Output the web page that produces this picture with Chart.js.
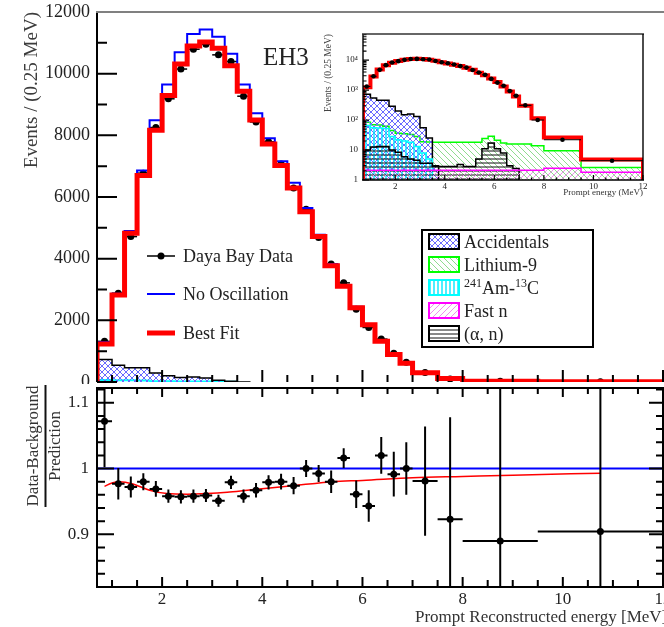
<!DOCTYPE html>
<html>
<head>
<meta charset="utf-8">
<script src="https://cdn.jsdelivr.net/npm/chart.js@4.4.1/dist/chart.umd.min.js"></script>
<style>
  html, body { margin: 0; padding: 0; background: #fff; width: 664px; height: 627px; overflow: hidden; }
  .panel { position: absolute; }
  canvas { display: block; }
</style>
</head>
<body>
<div class="panel" style="left:0;top:0"><canvas id="spectrum" width="700" height="386"></canvas></div>
<div class="panel" style="left:0;top:384px"><canvas id="ratio" width="700" height="243"></canvas></div>
<div class="panel" style="left:320px;top:25px"><canvas id="inset" width="380" height="175"></canvas></div>
<script>
// ---------------- data ----------------
// energy bin edges (MeV)
const binEdges = [0.7, 1.0, 1.25, 1.5, 1.75, 2.0, 2.25, 2.5, 2.75, 3.0, 3.25, 3.5, 3.75, 4.0,
  4.25, 4.5, 4.75, 5.0, 5.25, 5.5, 5.75, 6.0, 6.25, 6.5, 6.75, 7.0, 7.5, 8.0, 9.5, 12.0];

// events per 0.25 MeV
const dataCounts = [1318, 2880, 4716, 6774, 8253, 9185, 10150, 10793, 10953, 10610, 10394, 9269,
  8433, 7790, 7073, 6292, 5604, 4684, 3826, 3215, 2357, 1768, 1392, 932, 643, 310, 100, 22, 4.4];
const noOscCounts = [1286, 2860, 4896, 6858, 8488, 9645, 10696, 11285, 11430, 11198, 10642, 9645,
  8713, 7909, 7160, 6462, 5640, 4774, 3826, 3150, 2443, 1881, 1334, 900, 620, 305, 118, 27, 5.0];
const bestFitCounts = [1231, 2820, 4822, 6697, 8166, 9291, 10311, 10899, 11027, 10825, 10256, 9430,
  8497, 7716, 7018, 6292, 5520, 4716, 3771, 3109, 2411, 1855, 1318, 889, 611, 300, 115, 26, 4.8];

// background components
const accidentals = [730, 540, 460, 460, 290, 200, 150, 160, 130, 55, 25, 3, null, null, null,
  null, null, null, null, null, null, null, null, null, null, null, null, null, null];
const lithium9 = [85, 70, 68, 62, 45, 36, 35, 33, 28, 19, 18.5, 18, 18, 18, 18, 18, 18, 18, 18,
  24, 29, 21, 17, 16, 16, 16, 14, 9.5, 2.6];
const amC = [66, 55, 54, 52, 28, 22, 20, 18, 13, 8, 5, null, null, null, null, null, null, null,
  null, null, null, null, null, null, null, null, null, null, null];
const fastN = [2.1, 2.1, 2.1, 2.1, 2.1, 2.1, 2.1, 2.1, 2.1, 2.1, 2.1, 2.1, 2.1, 2.1, 2.1, 2.1,
  2.1, 2.1, 2.1, 2.1, 2.1, 2.1, 2.1, 2.1, 2.1, 2.1, 2.1, 2.45, 1.8];
const alphaN = [10, 12.5, 13, 13, 10, 8.5, 6, 5, 4.6, 3.6, 3.6, 2.8, 2.8, 2.8, 2.8, 3.3, 2.8, 2.8,
  5, 11, 17, 11, 8, 3, 2.4, null, null, null, null];

// (data - background) / prediction, per bin
const ratioValues = [1.072, 0.977, 0.972, 0.980, 0.969, 0.958, 0.957, 0.958, 0.959, 0.951, 0.979,
  0.958, 0.967, 0.979, 0.980, 0.974, 1.000, 0.9925, 0.980, 1.016, 0.961, 0.943, 1.020, 0.9915,
  1.000, 0.981, 0.923, 0.890, 0.9045];
const ratioErrors = [0.07, 0.024, 0.016, 0.013, 0.012, 0.010, 0.010, 0.010, 0.010, 0.009, 0.010,
  0.010, 0.011, 0.011, 0.012, 0.013, 0.013, 0.013, 0.017, 0.015, 0.021, 0.024, 0.028, 0.034,
  0.040, 0.083, 0.155, 0.30, 0.30];

// best-fit oscillation curve in the ratio panel
const fitEnergy = [0.85, 1.0, 1.15, 1.4, 1.75, 2.1, 2.5, 2.9, 3.3, 3.7, 4.1, 4.6, 5.0, 5.4, 6.0,
  7.0, 8.0, 9.0, 10.75];
const fitRatio = [0.973, 0.978, 0.980, 0.977, 0.967, 0.962, 0.961, 0.962, 0.964, 0.967, 0.970,
  0.974, 0.977, 0.980, 0.982, 0.986, 0.988, 0.990, 0.993];
// no-oscillation reference in the ratio panel
const unityEnergy = [0.7, 12];
const unityRatio = [1, 1];

// tick labels
const countTicks = [0, 2000, 4000, 6000, 8000, 10000, 12000];
const ratioTicks = [0.9, 1, 1.1];
const energyTicks = [2, 4, 6, 8, 10, 12];
const logTicks = [1, 10, 100, 1000, 10000];
const logTickLabels = ['1', '10', '10²', '10³', '10⁴'];

// ---------------- helpers ----------------
const SERIF = "'Liberation Serif','Times New Roman',serif";
Chart.defaults.font.family = SERIF;
Chart.defaults.color = '#222';
Chart.defaults.animation = false;
Chart.defaults.events = [];
Chart.defaults.plugins.legend.display = false;
Chart.defaults.plugins.tooltip.enabled = false;

const binCenters = binEdges.slice(0, -1).map((e, i) => (e + binEdges[i + 1]) / 2);

// step outline of a histogram, closed down to `floor` at both ends
function histPoints(values, floor) {
  const pts = [];
  let open = false;
  for (let i = 0; i < values.length; i++) {
    const v = values[i];
    if (v == null) {
      if (open) { pts.push({x: binEdges[i], y: values[i - 1]}, {x: binEdges[i], y: floor}); open = false; }
      continue;
    }
    if (!open) { pts.push({x: binEdges[i], y: floor}); open = true; }
    pts.push({x: binEdges[i], y: v});
  }
  if (open) {
    const n = values.length;
    pts.push({x: binEdges[n], y: values[n - 1]}, {x: binEdges[n], y: floor});
  }
  return pts;
}

function makeHatch(kind, color, step, lw) {
  const c = document.createElement('canvas');
  c.width = c.height = step;
  const g = c.getContext('2d');
  g.strokeStyle = color;
  g.lineWidth = lw;
  g.beginPath();
  if (kind === 'h') { g.moveTo(0, step / 2); g.lineTo(step, step / 2); }
  else if (kind === 'v') { g.moveTo(step / 2, 0); g.lineTo(step / 2, step); }
  else {
    for (const k of [-step, 0, step]) {
      if (kind === 'back' || kind === 'cross') { g.moveTo(k, 0); g.lineTo(k + step, step); }
      if (kind === 'fwd' || kind === 'cross') { g.moveTo(k, step); g.lineTo(k + step, 0); }
    }
  }
  g.stroke();
  return g.createPattern(c, 'repeat');
}

const hatchAcc = makeHatch('cross', '#6a6aff', 6, 1);
const hatchLi = makeHatch('back', '#8fdc8f', 6, 1);
const hatchAm = makeHatch('v', '#00e8ff', 4, 1.4);
const hatchFast = makeHatch('fwd', '#f08cf0', 6, 1);
const hatchAlpha = makeHatch('h', '#111', 4, 1);

function range(from, to, step, skip) {
  const out = [];
  for (let v = from; v <= to + 1e-9; v += step) {
    const r = Math.round(v * 1000) / 1000;
    if (!skip || !skip.some(s => Math.abs(s - r) < 1e-6)) out.push(r);
  }
  return out;
}

function fixedScale(size, horizontal) {
  return (s) => {
    if (horizontal) s.height = size; else s.width = size;
    s.paddingLeft = s.paddingRight = s.paddingTop = s.paddingBottom = 0;
  };
}

// frame lines and inward tick marks
const framePlugin = {
  id: 'frame',
  beforeDraw(chart, args, o) {
    if (!o.background) return;
    const c = chart.ctx;
    c.save(); c.fillStyle = o.background; c.fillRect(0, 0, chart.width, chart.height); c.restore();
  },
  afterDatasetsDraw(chart, args, o) {
    const {ctx, chartArea: a, scales} = chart;
    ctx.save();
    (o.ticks || []).forEach(t => {
      const s = scales[t.axis];
      ctx.strokeStyle = t.color || '#000';
      ctx.lineWidth = t.width || 1.5;
      ctx.beginPath();
      t.values.forEach(v => {
        const p = s.getPixelForValue(v);
        if (t.side === 'left') { ctx.moveTo(a.left, p); ctx.lineTo(a.left + t.len, p); }
        else if (t.side === 'right') { ctx.moveTo(a.right, p); ctx.lineTo(a.right - t.len, p); }
        else if (t.side === 'bottom') { ctx.moveTo(p, a.bottom); ctx.lineTo(p, a.bottom - t.len); }
        else { ctx.moveTo(p, a.top); ctx.lineTo(p, a.top + t.len); }
      });
      ctx.stroke();
    });
    (o.edges || []).forEach(e => {
      ctx.strokeStyle = e.color || '#000';
      ctx.lineWidth = e.width || 2;
      ctx.beginPath();
      if (e.side === 'left') { ctx.moveTo(a.left, a.top); ctx.lineTo(a.left, a.bottom); }
      else if (e.side === 'right') { ctx.moveTo(a.right, a.top); ctx.lineTo(a.right, a.bottom); }
      else if (e.side === 'top') { ctx.moveTo(a.left - 1, a.top); ctx.lineTo(e.to || a.right + 1, a.top); }
      else { ctx.moveTo(a.left - 1, a.bottom); ctx.lineTo(a.right + 1, a.bottom); }
      ctx.stroke();
    });
    ctx.restore();
  }
};

// horizontal / vertical error bars for datasets that carry them
const errorBarPlugin = {
  id: 'errorBars',
  beforeDatasetDraw(chart, args) {
    const ds = chart.data.datasets[args.index];
    if (!ds.errorBars) return;
    const {ctx, chartArea: a} = chart;
    const xs = chart.scales.x, ys = chart.scales.y;
    ctx.save();
    ctx.beginPath();
    ctx.rect(a.left, a.top, a.right - a.left, a.bottom - a.top);
    ctx.clip();
    ctx.strokeStyle = ds.errorBars.color;
    ctx.lineWidth = ds.errorBars.width;
    ds.data.forEach(pt => {
      const px = xs.getPixelForValue(pt.x), py = ys.getPixelForValue(pt.y);
      ctx.beginPath();
      if (pt.xLo != null) { ctx.moveTo(xs.getPixelForValue(pt.xLo), py); ctx.lineTo(xs.getPixelForValue(pt.xHi), py); }
      if (pt.yLo != null) { ctx.moveTo(px, ys.getPixelForValue(pt.yLo)); ctx.lineTo(px, ys.getPixelForValue(pt.yHi)); }
      ctx.stroke();
    });
    ctx.restore();
  }
};

// free text, legend keys and boxes
const notesPlugin = {
  id: 'notes',
  afterDraw(chart, args, o) {
    const ctx = chart.ctx;
    (o.items || []).forEach(it => {
      ctx.save();
      if (it.kind === 'text') {
        ctx.font = it.font;
        ctx.fillStyle = it.color || '#222';
        ctx.textAlign = it.align || 'left';
        ctx.textBaseline = it.baseline || 'alphabetic';
        if (it.rotate) {
          ctx.translate(it.x, it.y);
          ctx.rotate(it.rotate);
          ctx.fillText(it.text, 0, 0);
        } else ctx.fillText(it.text, it.x, it.y);
      } else if (it.kind === 'rich') {
        let x = it.x;
        ctx.fillStyle = it.color || '#222';
        ctx.textBaseline = 'alphabetic';
        it.parts.forEach(p => {
          ctx.font = p.sup ? it.supFont : it.font;
          ctx.fillText(p.t, x, it.y - (p.sup ? it.raise : 0));
          x += ctx.measureText(p.t).width;
        });
      } else if (it.kind === 'line') {
        ctx.strokeStyle = it.color;
        ctx.lineWidth = it.width;
        ctx.beginPath(); ctx.moveTo(it.x1, it.y1); ctx.lineTo(it.x2, it.y2); ctx.stroke();
      } else if (it.kind === 'dot') {
        ctx.fillStyle = it.color;
        ctx.beginPath(); ctx.arc(it.x, it.y, it.r, 0, Math.PI * 2); ctx.fill();
      } else if (it.kind === 'box') {
        if (it.fill) { ctx.fillStyle = it.fill; ctx.fillRect(it.x, it.y, it.w, it.h); }
        ctx.strokeStyle = it.color;
        ctx.lineWidth = it.width;
        ctx.strokeRect(it.x, it.y, it.w, it.h);
      }
      ctx.restore();
    });
  }
};

Chart.register(framePlugin, errorBarPlugin, notesPlugin);

function stepSet(label, values, floor, style) {
  return Object.assign({
    label, data: histPoints(values, floor), stepped: 'before', pointRadius: 0,
    borderWidth: 2, fill: false, borderJoinStyle: 'miter'
  }, style);
}

function dataPoints(values) {
  return values.map((v, i) => ({x: binCenters[i], y: v, xLo: binEdges[i], xHi: binEdges[i + 1]}));
}

// ---------------- energy spectrum ----------------
const ticksXMajor = energyTicks;
const ticksXMinor = range(1, 11.5, 0.5, energyTicks);
const bigFont = '18px ' + SERIF;
const supFont = '12px ' + SERIF;

new Chart(document.getElementById('spectrum'), {
  type: 'line',
  data: {
    datasets: [
      stepSet('Best Fit', bestFitCounts, 0, {borderColor: '#ff0000', borderWidth: 5, order: 1}),
      stepSet('No Oscillation', noOscCounts, 0, {borderColor: '#0000ff', borderWidth: 2, order: 2}),
      {
        label: 'Daya Bay Data', data: dataPoints(dataCounts), showLine: false, order: 3,
        pointRadius: 3.5, pointBorderWidth: 0, pointBackgroundColor: '#000',
        errorBars: {color: '#000', width: 1.5}
      },
      stepSet('Accidentals', accidentals, 0, {borderColor: '#000', borderWidth: 1.5, fill: 'origin',
        backgroundColor: hatchAcc, order: 10}),
      stepSet('241Am-13C', amC, 0, {borderColor: '#00ffff', borderWidth: 2, order: 11})
    ]
  },
  options: {
    responsive: false,
    devicePixelRatio: 1,
    layout: {padding: {left: 0, top: 12, right: 37, bottom: 0}},
    scales: {
      x: {
        type: 'linear', min: 0.7, max: 12,
        ticks: {display: false},
        grid: {display: false, drawTicks: false},
        border: {display: false},
        afterFit: fixedScale(2, true)
      },
      y: {
        type: 'linear', min: 0, max: 12000,
        afterBuildTicks: s => { s.ticks = countTicks.map(v => ({value: v})); },
        ticks: {font: {size: 18}, padding: 7, color: '#222', callback: v => String(v)},
        grid: {display: false, drawTicks: false},
        border: {display: false},
        title: {display: true, text: 'Events / (0.25 MeV)', align: 'end', color: '#3c3c3c',
          font: {size: 19}, padding: {top: 21, bottom: 0}},
        afterFit: fixedScale(97, false)
      }
    },
    plugins: {
      frame: {
        ticks: [
          {axis: 'y', side: 'left', values: countTicks, len: 20, width: 2},
          {axis: 'y', side: 'left', values: range(1000, 11000, 2000), len: 10, width: 2},
          {axis: 'x', side: 'bottom', values: ticksXMajor, len: 12, width: 2},
          {axis: 'x', side: 'bottom', values: ticksXMinor, len: 7, width: 2}
        ],
        edges: [
          {side: 'left', color: '#000', width: 2},
          {side: 'top', color: '#808080', width: 2, to: 664}
        ]
      },
      notes: {
        items: [
          {kind: 'text', text: 'EH3', x: 263, y: 65, font: '25px ' + SERIF, color: '#222'},
          // main legend
          {kind: 'line', x1: 147, y1: 256, x2: 175, y2: 256, color: '#000', width: 1.5},
          {kind: 'dot', x: 161, y: 256, r: 3.5, color: '#000'},
          {kind: 'text', text: 'Daya Bay Data', x: 183, y: 262, font: bigFont},
          {kind: 'line', x1: 147, y1: 294, x2: 175, y2: 294, color: '#0000ff', width: 2},
          {kind: 'text', text: 'No Oscillation', x: 183, y: 300, font: bigFont},
          {kind: 'line', x1: 147, y1: 333, x2: 175, y2: 333, color: '#ff0000', width: 5},
          {kind: 'text', text: 'Best Fit', x: 183, y: 339, font: bigFont},
          // background legend
          {kind: 'box', x: 422, y: 230, w: 171, h: 117, color: '#000', width: 2, fill: '#fff'},
          {kind: 'box', x: 429, y: 234, w: 30, h: 15, color: '#000', width: 2, fill: hatchAcc},
          {kind: 'text', text: 'Accidentals', x: 464, y: 248, font: bigFont},
          {kind: 'box', x: 429, y: 257, w: 30, h: 15, color: '#00ff00', width: 2, fill: hatchLi},
          {kind: 'text', text: 'Lithium-9', x: 464, y: 271, font: bigFont},
          {kind: 'box', x: 429, y: 280, w: 30, h: 15, color: '#00ffff', width: 2, fill: hatchAm},
          {kind: 'rich', x: 464, y: 294, font: bigFont, supFont: supFont, raise: 7,
            parts: [{t: '241', sup: true}, {t: 'Am-'}, {t: '13', sup: true}, {t: 'C'}]},
          {kind: 'box', x: 429, y: 303, w: 30, h: 15, color: '#ff00ff', width: 2, fill: hatchFast},
          {kind: 'text', text: 'Fast n', x: 464, y: 317, font: bigFont},
          {kind: 'box', x: 429, y: 326, w: 30, h: 15, color: '#000', width: 2, fill: hatchAlpha},
          {kind: 'text', text: '(α, n)', x: 464, y: 340, font: bigFont}
        ]
      }
    }
  }
});

// ---------------- ratio panel ----------------
const ratioPoints = ratioValues.map((r, i) => ({
  x: binCenters[i], y: r, xLo: binEdges[i], xHi: binEdges[i + 1],
  yLo: r - ratioErrors[i], yHi: r + ratioErrors[i]
}));
const ratioMinor = range(0.82, 1.12, 0.02, ratioTicks);
const labelFont = '17px ' + SERIF;

new Chart(document.getElementById('ratio'), {
  type: 'line',
  data: {
    datasets: [
      {
        label: 'Data', data: ratioPoints, showLine: false, order: 1,
        pointRadius: 3.5, pointBorderWidth: 0, pointBackgroundColor: '#000',
        errorBars: {color: '#000', width: 2}
      },
      {
        label: 'Best Fit', data: fitEnergy.map((e, i) => ({x: e, y: fitRatio[i]})),
        borderColor: '#ff0000', borderWidth: 1.5, pointRadius: 0,
        cubicInterpolationMode: 'monotone', order: 2
      },
      {
        label: 'No Oscillation', data: unityEnergy.map((e, i) => ({x: e, y: unityRatio[i]})),
        borderColor: '#0000ff', borderWidth: 2, pointRadius: 0, order: 3
      }
    ]
  },
  options: {
    responsive: false,
    devicePixelRatio: 1,
    layout: {padding: {left: 0, top: 0, right: 37, bottom: 0}},
    scales: {
      x: {
        type: 'linear', min: 0.7, max: 12,
        afterBuildTicks: s => { s.ticks = energyTicks.map(v => ({value: v})); },
        ticks: {font: {size: 17}, padding: 2, color: '#222', autoSkip: false, maxRotation: 0,
          callback: v => String(v)},
        grid: {display: false, drawTicks: false},
        border: {display: false},
        afterFit: fixedScale(40, true)
      },
      y: {
        type: 'linear', min: 0.82, max: 1.1224,
        afterBuildTicks: s => { s.ticks = ratioTicks.map(v => ({value: v})); },
        ticks: {font: {size: 17}, padding: 8, color: '#222', callback: v => String(v)},
        grid: {display: false, drawTicks: false},
        border: {display: false},
        afterFit: fixedScale(97, false)
      }
    },
    plugins: {
      frame: {
        background: '#fff',
        ticks: [
          {axis: 'y', side: 'left', values: ratioTicks, len: 17, width: 2},
          {axis: 'y', side: 'left', values: ratioMinor, len: 8, width: 2},
          {axis: 'y', side: 'right', values: ratioTicks, len: 14, width: 2},
          {axis: 'y', side: 'right', values: ratioMinor, len: 7, width: 2},
          {axis: 'x', side: 'bottom', values: ticksXMajor, len: 10, width: 2},
          {axis: 'x', side: 'bottom', values: ticksXMinor, len: 7, width: 2},
          {axis: 'x', side: 'top', values: ticksXMajor, len: 9, width: 2},
          {axis: 'x', side: 'top', values: ticksXMinor, len: 6, width: 2}
        ],
        edges: [
          {side: 'left', width: 2}, {side: 'bottom', width: 2},
          {side: 'top', width: 2}, {side: 'right', width: 2}
        ]
      },
      notes: {
        items: [
          {kind: 'text', text: 'Data-Background', x: 34, y: 62, font: labelFont, color: '#333',
            align: 'center', baseline: 'middle', rotate: -Math.PI / 2},
          {kind: 'line', x1: 45.5, y1: 1, x2: 45.5, y2: 123, color: '#111', width: 2},
          {kind: 'text', text: 'Prediction', x: 56, y: 62, font: labelFont, color: '#333',
            align: 'center', baseline: 'middle', rotate: -Math.PI / 2},
          {kind: 'text', text: 'Prompt Reconstructed energy [MeV]', x: 415, y: 238,
            font: labelFont, color: '#333'}
        ]
      }
    }
  }
});

// ---------------- inset: log-scale spectrum with backgrounds ----------------
const logMinor = [];
[1, 10, 100, 1000, 10000].forEach(d => [2, 3, 4, 5, 6, 7, 8, 9].forEach(m => { if (d * m < 74000) logMinor.push(d * m); }));
const insetFloor = 0.1;

new Chart(document.getElementById('inset'), {
  type: 'line',
  data: {
    datasets: [
      {
        label: 'Data', data: dataPoints(dataCounts), showLine: false, order: 1,
        pointRadius: 2.3, pointBorderWidth: 0, pointBackgroundColor: '#000',
        errorBars: {color: '#000', width: 1}
      },
      stepSet('Best Fit', bestFitCounts, insetFloor, {borderColor: '#ff0000', borderWidth: 4, order: 2}),
      stepSet('Fast n', fastN, insetFloor, {borderColor: '#ff00ff', borderWidth: 1.5, fill: 'start',
        backgroundColor: hatchFast, order: 3}),
      stepSet('(α, n)', alphaN, insetFloor, {borderColor: '#000', borderWidth: 1.5, fill: 'start',
        backgroundColor: hatchAlpha, order: 4}),
      stepSet('241Am-13C', amC, insetFloor, {borderColor: '#00ffff', borderWidth: 1.5, fill: 'start',
        backgroundColor: hatchAm, order: 5}),
      stepSet('Accidentals', accidentals, insetFloor, {borderColor: '#000', borderWidth: 1.5, fill: 'start',
        backgroundColor: hatchAcc, order: 6}),
      stepSet('Lithium-9', lithium9, insetFloor, {borderColor: '#00ff00', borderWidth: 1.5, fill: 'start',
        backgroundColor: hatchLi, order: 7})
    ]
  },
  options: {
    responsive: false,
    devicePixelRatio: 1,
    layout: {padding: {left: 0, top: 9, right: 57, bottom: 0}},
    scales: {
      x: {
        type: 'linear', min: 0.7, max: 12,
        afterBuildTicks: s => { s.ticks = energyTicks.map(v => ({value: v})); },
        ticks: {font: {size: 9}, padding: 1, color: '#222', autoSkip: false, maxRotation: 0,
          callback: v => String(v)},
        grid: {display: false, drawTicks: false},
        border: {display: false},
        title: {display: true, text: 'Prompt energy (MeV)', align: 'end', color: '#333',
          font: {size: 9}, padding: {top: 0, bottom: 1.5}},
        afterFit: fixedScale(20, true)
      },
      y: {
        type: 'logarithmic', min: 1, max: 74000,
        afterBuildTicks: s => { s.ticks = logTicks.map(v => ({value: v})); },
        ticks: {font: {size: 9}, padding: 5, color: '#222', callback: (v, i) => logTickLabels[i]},
        grid: {display: false, drawTicks: false},
        border: {display: false},
        title: {display: true, text: 'Events / (0.25 MeV)', align: 'end', color: '#444',
          font: {size: 9.5}, padding: {top: 3, bottom: 0}},
        afterFit: fixedScale(43, false)
      }
    },
    plugins: {
      frame: {
        ticks: [
          {axis: 'y', side: 'left', values: logTicks, len: 6, width: 1.2},
          {axis: 'y', side: 'left', values: logMinor, len: 3.5, width: 1.2},
          {axis: 'x', side: 'bottom', values: energyTicks, len: 5, width: 1.2},
          {axis: 'x', side: 'bottom', values: range(1, 11.5, 0.5, energyTicks), len: 2.5, width: 1.2}
        ],
        edges: [
          {side: 'left', width: 1.4}, {side: 'bottom', width: 1.4},
          {side: 'top', width: 1.4, color: '#333'}, {side: 'right', width: 1.4}
        ]
      }
    }
  }
});
</script>
</body>
</html>
